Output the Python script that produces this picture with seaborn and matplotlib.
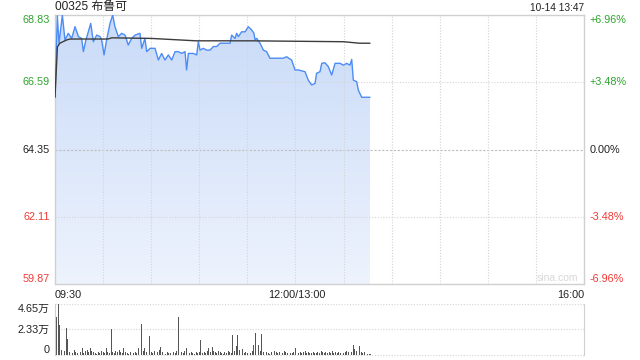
import numpy as np
import pandas as pd
import matplotlib
matplotlib.use("Agg")
import matplotlib.pyplot as plt
import seaborn as sns
from matplotlib.colors import LinearSegmentedColormap
import matplotlib.transforms as mtransforms

# ---------------- data ----------------
title = "00325 布鲁可"
stamp = "10-14 13:47"
prev_close = 64.35
price_ticks = [68.83, 66.59, 64.35, 62.11, 59.87]
pct_labels = ["+6.96%", "+3.48%", "0.00%", "-3.48%", "-6.96%"]
time_labels = ["09:30", "12:00/13:00", "16:00"]
watermark = "sina.com"

price_min = [0, 1.45, 2.5, 4.6, 6.2, 8.3, 10.4, 12.5, 14.6, 16.6, 17.7, 19.3, 22.3, 23.9, 26,
             28.1, 29.1, 30.6, 32.2, 34.3, 36, 37.4, 39.5, 41.6, 43.7, 45.7, 47.8, 49.9, 53,
             54.1, 56.1, 57.2, 59.3, 62.4, 64.5, 66.5, 68.6, 70.7, 72.8, 74.9, 76.9, 79, 81.1,
             82.1, 83.2, 86.3, 88.4, 89.4, 90.5, 92.5, 94.6, 96.7, 98.8, 100.9, 102.9, 105,
             109.2, 110.2, 112.3, 113.3, 114.4, 116.4, 118.5, 120.6, 122.7, 124.1, 124.8,
             125.8, 127.9, 130, 132, 134.1, 138.3, 142.4, 144.5, 147.6, 149.7, 151.8, 156,
             158, 160.1, 162.2, 163.2, 165.3, 166.4, 168.4, 170.5, 172.6, 174.7, 177.8,
             179.9, 181.9, 184, 185.1, 186.1, 188.2, 189.2, 191.3, 196.5]
price_val = [66.09, 68.80, 67.89, 68.83, 68.00, 68.22, 68.05, 68.44, 68.11, 68.05, 67.61, 68.00,
             68.55, 67.94, 68.16, 68.11, 68.00, 67.50, 68.00, 68.55, 68.83, 68.44, 68.11, 68.22,
             68.16, 67.83, 68.05, 68.16, 68.22, 67.72, 68.05, 67.61, 67.72, 67.72, 67.33, 67.55,
             67.33, 67.50, 67.33, 67.61, 67.61, 67.55, 67.61, 67.00, 67.55, 67.55, 67.50, 67.94,
             67.66, 67.72, 67.66, 67.66, 67.78, 67.78, 67.89, 67.89, 67.89, 68.16, 68.05, 68.22,
             68.11, 68.27, 68.27, 68.44, 68.33, 68.22, 68.00, 68.05, 67.89, 67.66, 67.61, 67.39,
             67.39, 67.39, 67.44, 67.33, 67.00, 67.00, 66.94, 66.66, 66.50, 66.55, 66.89, 66.94,
             67.22, 67.24, 67.11, 66.83, 67.22, 67.22, 67.16, 67.22, 67.16, 67.35, 66.66, 66.61,
             66.33, 66.09, 66.09]

avg_min = [0, 1.5, 3, 7.3, 9.4, 33, 35.5, 60, 88, 122, 180, 190, 196.5]
avg_val = [66.09, 67.77, 67.89, 68.00, 68.03, 68.03, 68.07, 68.05, 67.97, 67.97, 67.94, 67.89, 67.89]

# volume per minute, in 万
vol = [2.4, 3.5, 4.7, 2.7, 0.5, 1.65, 0.4, 2.45, 1.5, 0.3,
       0.3, 0.2, 0.5, 0.3, 0.2, 0.4, 0.3, 0.6, 0.2, 0.4,
       0.5, 0.3, 0.6, 0.4, 0.3, 0.2, 0.1, 0.3, 0.2, 0.4,
       0.3, 0.2, 0.6, 0.3, 0.2, 2.4, 0.3, 0.2, 0.4, 0.3,
       0.5, 0.3, 0.2, 0.6, 0.3, 0.2, 0.1, 0.3, 0.4, 0.2,
       0.3, 0.2, 0.6, 0.3, 2.85, 0.4, 0.6, 0.3, 0.8, 1.7,
       0.3, 0.2, 0.4, 0.2, 0.3, 0.5, 0.7, 0.3, 0.2, 0.1,
       0.3, 0.2, 0.2, 0.4, 0.3, 0.2, 0.4, 3.5, 2.6, 0.3,
       0.2, 0.4, 0.6, 0.3, 0.2, 0.3, 0.2, 0.1, 0.3, 0.2,
       0.3, 1.4, 0.2, 0.3, 0.2, 0.4, 0.6, 0.3, 0.7, 0.4,
       0.3, 0.2, 0.4, 0.3, 0.2, 0.1, 0.3, 0.2, 0.4, 0.3,
       0.2, 1.8, 0.4, 0.8, 1.8, 0.5, 0.3, 0.55, 0.2, 0.3,
       0.2, 0.3, 0.2, 0.4, 0.9, 2.05, 0.3, 0.9, 0.4, 1.9,
       0.3, 0.2, 0.3, 0.2, 0.1, 0.3, 0.2, 0.4, 0.3, 0.2,
       0.3, 0.2, 0.2, 0.4, 0.3, 0.2, 0.3, 0.2, 0.2, 0.3,
       0.6, 0.3, 0.2, 0.3, 0.2, 0.3, 0.4, 0.2, 0.3, 0.2,
       0.2, 0.3, 0.2, 0.2, 0.3, 0.2, 0.4, 0.3, 0.2, 0.3,
       0.2, 0.3, 0.2, 0.4, 0.2, 0.3, 0.2, 0.3, 0.2, 0.3,
       0.2, 0.3, 0.4, 0.3, 0.2, 0.3, 0.9, 0.55, 0.4, 0.5,
       0.8, 0.3, 0.2, 0.3, 0.2, 0.1, 0.1, 0.1]
vol_ticks = [4.65, 2.33, 0]
vol_labels = ["4.65万", "2.33万", "0"]

# ---------------- style ----------------
sns.set_style("white")
plt.rcParams['font.family'] = ['Liberation Sans', 'Noto Sans CJK SC', 'DejaVu Sans']

GREEN = "#2ba52b"
RED = "#f03a35"
BLACK = "#222222"
BORDER = "#d0d0d0"
GRID = "#d4d4d4"
LINE = "#4d8cf5"

TOTAL = 330
fig = plt.figure(figsize=(6.4, 3.6), dpi=100)
ax = fig.add_axes([55 / 640, 1 - 284 / 360, 529 / 640, 269 / 360])
axv = fig.add_axes([55 / 640, 1 - 355 / 360, 529 / 640, 51 / 360])

ymin, ymax = price_ticks[-1], price_ticks[0]
ax.set_xlim(0, TOTAL)
ax.set_ylim(ymin, ymax)

# gradient fill under the price line
pdf = pd.DataFrame({"minute": price_min, "price": price_val})
poly = ax.fill_between(pdf["minute"], pdf["price"], ymin, color="none", lw=0)
cmap = LinearSegmentedColormap.from_list("g", ["#eef3fd", "#c9dbf8"])
grad = np.linspace(0, 1, 256).reshape(-1, 1)
img = ax.imshow(grad, cmap=cmap, origin="lower", aspect="auto",
                extent=[0, TOTAL, ymin, ymax], zorder=1)
img.set_clip_path(poly.get_paths()[0], transform=ax.transData)

sns.lineplot(data=pdf, x="minute", y="price", ax=ax, color=LINE, lw=1.0, zorder=3)
adf = pd.DataFrame({"minute": avg_min, "avg": avg_val})
sns.lineplot(data=adf, x="minute", y="avg", ax=ax, color="#3c3c3c", lw=1.0, zorder=4)
ax.set_ylim(ymin, ymax)
ax.set_xlim(0, TOTAL)

# grid
for p in price_ticks[1:-1]:
    if p == prev_close:
        ax.axhline(p, color="#bdbdbd", lw=0.8, ls=(0, (2, 1.5)), zorder=2)
    else:
        ax.axhline(p, color=GRID, lw=0.8, ls=(0, (1, 1.5)), zorder=2)
for m in range(30, TOTAL, 30):
    ax.axvline(m, color=GRID, lw=0.8, ls=(0, (1, 1.5)), zorder=2)

ax.set_xticks([])
ax.set_yticks([])
ax.set_xlabel("")
ax.set_ylabel("")
for s in ax.spines.values():
    s.set_color(BORDER)
    s.set_linewidth(1)

# y labels
def lab_color(i):
    return GREEN if i < 2 else (BLACK if i == 2 else RED)

trL = mtransforms.blended_transform_factory(ax.transAxes, ax.transData)
for i, p in enumerate(price_ticks):
    va = "top" if i == 0 else ("bottom" if i == len(price_ticks) - 1 else "center")
    ax.text(-0.01, p, f"{p:.2f}", transform=trL, ha="right", va=va,
            color=lab_color(i), fontsize=7.8)
    ax.text(1.011, p, pct_labels[i], transform=trL, ha="left", va=va,
            color=lab_color(i), fontsize=7.8)

ax.text(0.99, 0.005, watermark, transform=ax.transAxes, ha="right", va="bottom",
        color="#d8d8d8", fontsize=7.5)

# title & stamp
fig.text(55 / 640, 1 - 7 / 360, title, ha="left", va="center", fontsize=8.6, color=BLACK)
fig.text(584 / 640, 1 - 8 / 360, stamp, ha="right", va="center", fontsize=7.3, color=BLACK)

# time labels
ty = 1 - 295 / 360
fig.text(55 / 640, ty, time_labels[0], ha="left", va="center", fontsize=7.8, color=BLACK)
fig.text(297 / 640, ty, time_labels[1], ha="center", va="center", fontsize=7.8, color=BLACK)
fig.text(584 / 640, ty, time_labels[2], ha="right", va="center", fontsize=7.8, color=BLACK)

# volume
vdf = pd.DataFrame({"minute": np.arange(len(vol)), "vol": vol})
sns.barplot(data=vdf, x="minute", y="vol", ax=axv, native_scale=True, width=0.55,
            color="#555555", linewidth=0, errorbar=None, saturation=1)
axv.set_xlim(0, TOTAL)
axv.set_ylim(0, 4.65)
for v in vol_ticks:
    axv.axhline(v, color=GRID, lw=0.8, ls=(0, (1, 1.5)), zorder=0, clip_on=False)
axv.set_xticks([])
axv.set_yticks([])
axv.set_xlabel("")
axv.set_ylabel("")
axv.spines["top"].set_visible(False)
axv.spines["bottom"].set_visible(False)
axv.spines["left"].set_color(BORDER)
axv.spines["right"].set_color(BORDER)
trV = mtransforms.blended_transform_factory(axv.transAxes, axv.transData)
for i, v in enumerate(vol_ticks):
    va = "top" if i == 0 else ("bottom" if i == 2 else "center")
    axv.text(-0.01, v, vol_labels[i], transform=trV, ha="right", va=va,
             color=BLACK, fontsize=7.8)

fig.savefig("out.png", dpi=100)
